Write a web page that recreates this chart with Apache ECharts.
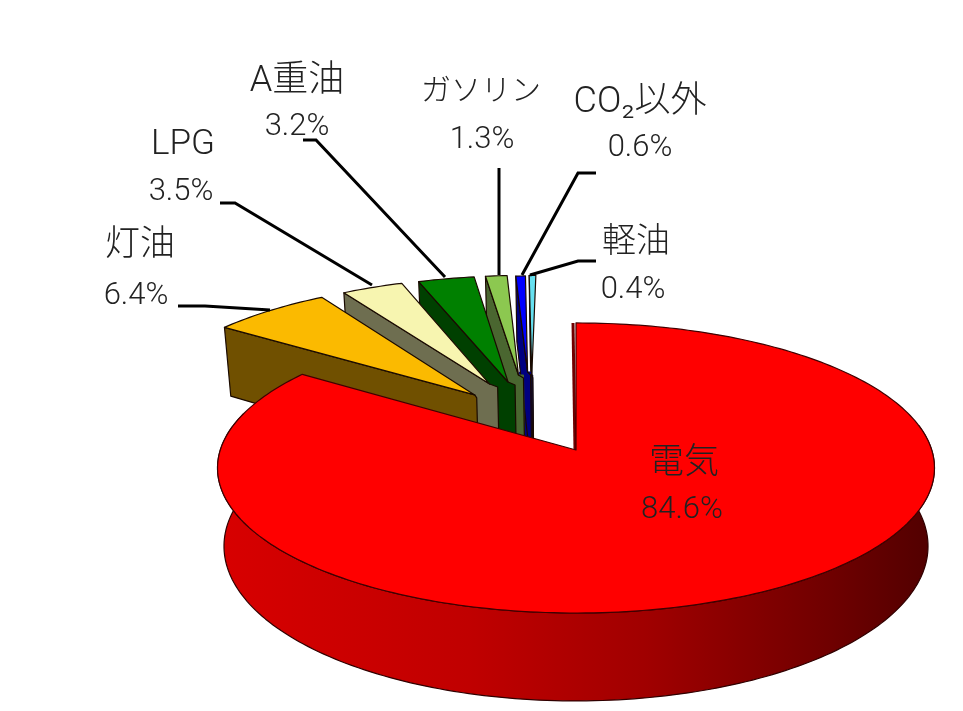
<!DOCTYPE html>
<html><head><meta charset="utf-8">
<script src="https://cdn.jsdelivr.net/npm/echarts@6/dist/echarts.min.js"></script>
<style>html,body{margin:0;padding:0;background:#fff}#c{width:963px;height:711px}</style></head>
<body><div id="c"></div>
<script>
// data
const categories = ['電気','灯油','LPG','A重油','ガソリン','CO₂以外','軽油'];
const values = [84.6,6.4,3.5,3.2,1.3,0.6,0.4];
// styles
const topColors = ['#FF0000','#FBBA00','#F7F5B0','#008000','#8CC850','#0000FF','#66E0F0'];
const wallColors = ['#B00000','#705000','#6E6E50','#004000','#4A6630','#000080','#101850'];
// layout of the exploded slices, in pie-radius units
const explodeX = [0,-0.299,-0.2575,-0.203,-0.173,-0.146,-0.133];
const explodeZ = [0,-0.405,-0.49,-0.506,-0.562,-0.586,-0.562];
const radiusK = [1,0.98,0.93,0.93,0.88,0.85,0.88];
const wallRightShift = [0,2,8,7,5,3,1];
const wallStrip = [0,0,0,0,12,8,6];
// label layout: centre x, name y, percent x, percent y, name size
const labelLayout = [[684,464,682,510,35],[140,246,136,296,35],[183,145,181,192,35],[297,82,297,127,36],[481,92,482,140,30],[640,103,640,148,36],[636,243,633,290,34]];
const leaderLines = [[],[[178,306],[205,306],[270,310]],[[220,203],[235,203],[372,285]],[[303,140],[316,140],[445,277]],[[499,168],[499,275]],[[596,173],[578,173],[522,275]],[[596,261],[578,261],[530,275]]];

const CX=576, CY=450, A=142.8, B=355.7, P=0.124, H=77, BX=0.982;
const total = values.reduce((a,b)=>a+b,0);
const startAngle = []; let acc=0;
values.forEach(v=>{startAngle.push(acc/total*2*Math.PI); acc+=v;});
const endAngle = values.map((v,i)=>startAngle[i]+v/total*2*Math.PI);

function proj(X,Z,bottom){
  const d=1-P*Z, x=CX+B*X/d, y=CY+A*Z/d;
  return bottom ? [CX+(x-CX)*BX, y+H/d] : [x,y];
}
function pt(i,ang,k,bottom){
  return proj(explodeX[i]+k*Math.sin(ang), explodeZ[i]-k*Math.cos(ang), bottom);
}
function arc(i,a0,a1,bottom){
  const n=Math.max(2,Math.ceil(Math.abs(a1-a0)/0.02)), out=[];
  for(let j=0;j<=n;j++) out.push(pt(i,a0+(a1-a0)*j/n,radiusK[i],bottom));
  return out;
}
const order = values.map((v,i)=>i).reverse(); // back to front

function renderSlice(params, api){
  const i=api.value(0), kids=[];
  const line={stroke:'#1a0a00',lineWidth:1.2,lineJoin:'round'};
  if(i===0){
    const a0=80*Math.PI/180,a1=285*Math.PI/180;
    const wall=arc(0,a0,a1,false).concat(arc(0,a1,a0,true));
    kids.push({type:'polygon',shape:{points:wall},style:Object.assign({},line,{stroke:'#300000',
      fill:new echarts.graphic.LinearGradient(0,0,1,0,[
        {offset:0,color:'#D80000'},{offset:0.35,color:'#C00000'},{offset:0.6,color:'#A00000'},{offset:0.85,color:'#700000'},{offset:1,color:'#500000'}])})});
    const a=pt(0,0,0,false), b=pt(0,0,1,false);
    kids.push({type:'line',shape:{x1:a[0]-1,y1:a[1],x2:b[0]-3,y2:b[1]},style:{stroke:'#700000',lineWidth:3}});
  } else {
    const s=pt(i,startAngle[i],radiusK[i],false), ap=pt(i,0,0,false);
    const sb=pt(i,startAngle[i],radiusK[i],true), apb=pt(i,0,0,true);
    const dx=wallRightShift[i];
    if(wallStrip[i]){
      kids.push({type:'polygon',shape:{points:[[ap[0]-wallStrip[i],ap[1]],[ap[0]+dx,ap[1]],[apb[0]+dx,apb[1]],[apb[0]-wallStrip[i],apb[1]]]},style:{fill:wallColors[i],stroke:wallColors[i],lineWidth:1}});
    }
    kids.push({type:'polygon',shape:{points:[s,ap,[ap[0]+dx,ap[1]+3],[apb[0]+dx,apb[1]],apb,sb]},style:Object.assign({fill:wallColors[i]},line)});
  }
  const top=[pt(i,0,0,false)].concat(arc(i,startAngle[i],endAngle[i],false));
  kids.push({type:'polygon',shape:{points:top},style:Object.assign({fill:topColors[i]},line,i===0?{stroke:'#400000'}:{})});
  return {type:'group',children:kids};
}
function renderLeader(params, api){
  const pts=leaderLines[api.value(0)];
  if(!pts.length) return {type:'group',children:[]};
  return {type:'polyline',shape:{points:pts},style:{stroke:'#000',lineWidth:3,fill:null}};
}
function renderLabel(params, api){
  const i=api.value(0), L=labelLayout[i];
  const base={fill:'#222',textAlign:'center',textVerticalAlign:'middle',fontFamily:'Roboto,"Noto Sans CJK JP",sans-serif',fontWeight:300};
  return {type:'group',children:[
    {type:'text',style:Object.assign({},base,{text:categories[i],x:L[0],y:L[1],fontSize:L[4]})},
    {type:'text',style:Object.assign({},base,{text:values[i].toFixed(1)+'%',x:L[2],y:L[3],fontSize:31})}
  ]};
}
const chart=echarts.init(document.getElementById('c'),null,{renderer:'canvas'});
chart.setOption({
  animation:false,backgroundColor:'#fff',
  series:[
    {type:'custom',coordinateSystem:'none',silent:true,z:1,renderItem:renderSlice,data:order.map(i=>[i,values[i]])},
    {type:'custom',coordinateSystem:'none',silent:true,z:2,renderItem:renderLeader,data:values.map((v,i)=>[i,v])},
    {type:'custom',coordinateSystem:'none',silent:true,z:3,renderItem:renderLabel,data:values.map((v,i)=>[i,v])}
  ]
});
</script></body></html>
